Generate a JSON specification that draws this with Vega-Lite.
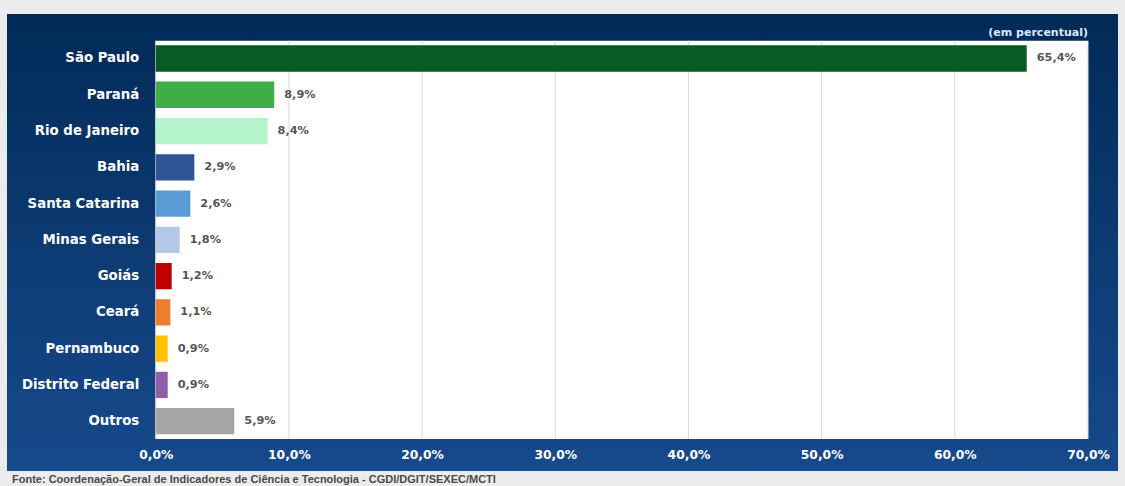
{
  "$schema": "https://vega.github.io/schema/vega-lite/v6.json",
  "width": 1111,
  "height": 457,
  "autosize": {"type": "none"},
  "padding": {"left": 7, "top": 14, "right": 7, "bottom": 15},
  "background": "#ececec",
  "view": {
    "stroke": null,
    "fill": {
      "gradient": "linear",
      "x1": 0, "y1": 0, "x2": 0, "y2": 1,
      "stops": [
        {"offset": 0, "color": "#012a57"},
        {"offset": 1, "color": "#174a8c"}
      ]
    }
  },
  "title": {
    "text": "Fonte: Coordenação-Geral de Indicadores de Ciência e Tecnologia - CGDI/DGIT/SEXEC/MCTI",
    "orient": "bottom",
    "anchor": "start",
    "offset": 3,
    "dx": 5,
    "font": "Liberation Sans",
    "fontSize": 11,
    "fontWeight": "bold",
    "color": "#4a4a4a"
  },
  "config": {
    "locale": {
      "number": {"decimal": ",", "thousands": ".", "grouping": [3], "currency": ["R$", ""]}
    },
    "axisX": {
      "orient": "bottom",
      "offset": -32,
      "format": ".1%",
      "domain": false,
      "ticks": false,
      "grid": false,
      "labelFlush": false,
      "labelOverlap": false,
      "labelPadding": 9,
      "labelColor": "#ffffff",
      "labelFont": "DejaVu Sans",
      "labelFontWeight": "bold",
      "labelFontSize": 12.3
    }
  },
  "layer": [
    {
      "data": {"values": [{}]},
      "mark": {"type": "rect", "color": "#ffffff"},
      "encoding": {
        "x": {"datum": 0, "type": "quantitative", "scale": {"domain": [0, 0.7], "range": [148.7, 1081], "nice": false}, "axis": {"title": null, "values": [0, 0.1, 0.2, 0.3, 0.4, 0.5, 0.6, 0.7]}},
        "x2": {"datum": 0.7},
        "y": {"datum": 0, "type": "quantitative", "scale": {"domain": [0, 1], "range": [26.7, 425]}, "axis": null},
        "y2": {"datum": 1}
      }
    },
    {
      "data": {"values": [{"g": 0}, {"g": 0.1}, {"g": 0.2}, {"g": 0.3}, {"g": 0.4}, {"g": 0.5}, {"g": 0.6}, {"g": 0.7}]},
      "mark": {"type": "rule", "color": "#d9d9d9", "strokeWidth": 1},
      "encoding": {
        "x": {"field": "g", "type": "quantitative", "axis": {"title": null, "values": [0, 0.1, 0.2, 0.3, 0.4, 0.5, 0.6, 0.7]}},
        "y": {"datum": 0, "type": "quantitative", "scale": {"domain": [0, 1], "range": [26.7, 425]}, "axis": null},
        "y2": {"datum": 1}
      }
    },
    {
      "data": {"values": [{}]},
      "mark": {"type": "text", "align": "right", "baseline": "alphabetic", "dy": -5, "font": "DejaVu Sans", "fontWeight": "bold", "fontSize": 11, "color": "#dfe7f3"},
      "encoding": {
        "x": {"datum": 0.7, "type": "quantitative", "axis": {"title": null, "values": [0, 0.1, 0.2, 0.3, 0.4, 0.5, 0.6, 0.7]}},
        "y": {"datum": 0, "type": "quantitative", "scale": {"domain": [0, 1], "range": [26.7, 425]}, "axis": null},
        "text": {"value": "(em percentual)"}
      }
    },
    {
      "data": {
        "values": [
          {"estado": "São Paulo", "pct": 0.654},
          {"estado": "Paraná", "pct": 0.089},
          {"estado": "Rio de Janeiro", "pct": 0.084},
          {"estado": "Bahia", "pct": 0.029},
          {"estado": "Santa Catarina", "pct": 0.026},
          {"estado": "Minas Gerais", "pct": 0.018},
          {"estado": "Goiás", "pct": 0.012},
          {"estado": "Ceará", "pct": 0.011},
          {"estado": "Pernambuco", "pct": 0.009},
          {"estado": "Distrito Federal", "pct": 0.009},
          {"estado": "Outros", "pct": 0.059}
        ]
      },
      "encoding": {
        "y": {
          "field": "estado",
          "type": "nominal",
          "sort": null,
          "scale": {"range": [26.7, 425], "paddingInner": 0.275, "paddingOuter": 0.128},
          "axis": {
            "title": null,
            "orient": "left",
            "offset": -148.7,
            "domain": false,
            "ticks": false,
            "grid": false,
            "labelPadding": 17,
            "labelColor": "#ffffff",
            "labelFont": "DejaVu Sans",
            "labelFontWeight": "bold",
            "labelFontSize": 13.3
          }
        },
        "x": {
          "field": "pct",
          "type": "quantitative",
          "scale": {"domain": [0, 0.7], "range": [148.7, 1081], "nice": false},
          "axis": {"title": null, "values": [0, 0.1, 0.2, 0.3, 0.4, 0.5, 0.6, 0.7]}
        }
      },
      "layer": [
        {
          "mark": {"type": "bar"},
          "encoding": {
            "color": {
              "field": "estado",
              "type": "nominal",
              "legend": null,
              "scale": {
                "domain": ["São Paulo", "Paraná", "Rio de Janeiro", "Bahia", "Santa Catarina", "Minas Gerais", "Goiás", "Ceará", "Pernambuco", "Distrito Federal", "Outros"],
                "range": ["#0a5a24", "#3fae49", "#b4f4ca", "#2f5597", "#5b9bd5", "#b4c7e7", "#c00000", "#ed7d31", "#ffc000", "#8e5ea8", "#a6a6a6"]
              }
            }
          }
        },
        {
          "mark": {"type": "text", "align": "left", "baseline": "middle", "dx": 10, "font": "DejaVu Sans", "fontWeight": "bold", "fontSize": 11.3, "color": "#555555"},
          "encoding": {
            "text": {"field": "pct", "type": "quantitative", "format": ".1%"}
          }
        }
      ]
    }
  ],
  "resolve": {"scale": {"y": "independent"}}
}
